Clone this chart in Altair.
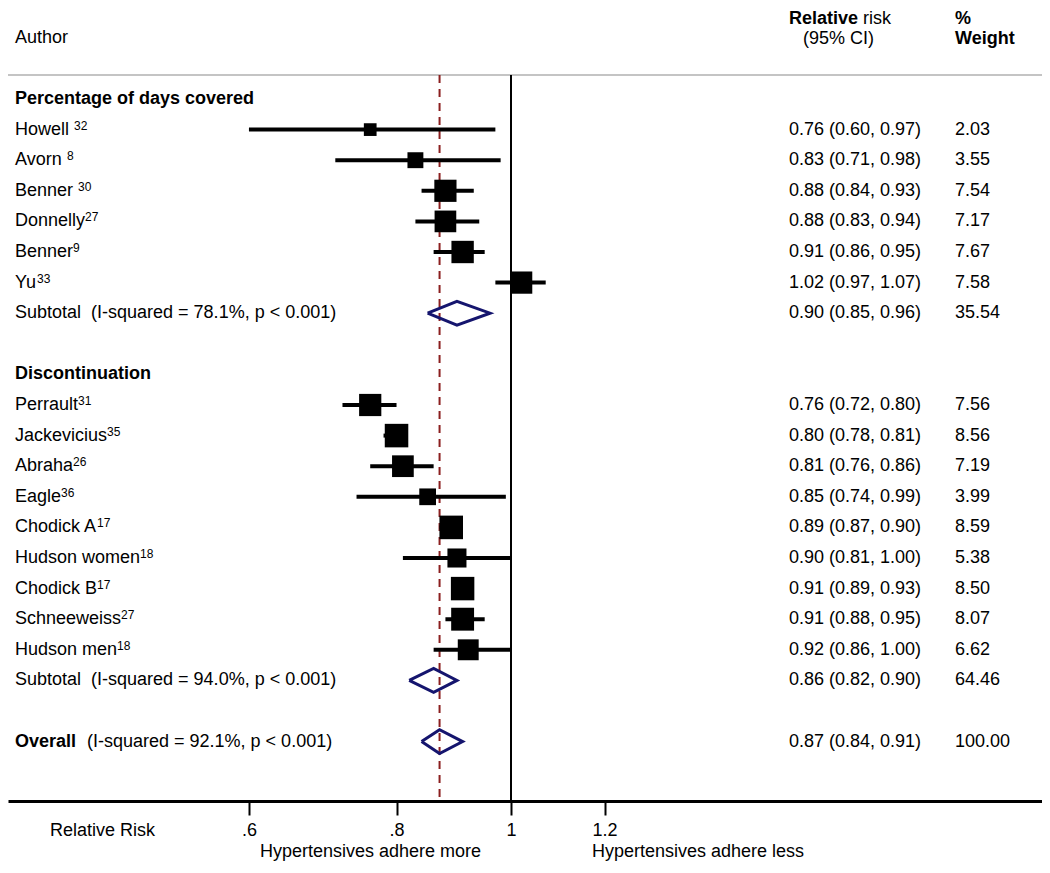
import altair as alt
import pandas as pd

# ---------------- data ----------------
study_names = ["Howell ", "Avorn ", "Benner ", "Donnelly", "Benner", "Yu",
               "Perrault", "Jackevicius", "Abraha", "Eagle", "Chodick A",
               "Hudson women", "Chodick B", "Schneeweiss", "Hudson men"]
study_refs = ["32", "8", "30", "27", "9", "33", "31", "35", "26", "36", "17", "18", "17", "27", "18"]
study_rows = [1, 2, 3, 4, 5, 6, 10, 11, 12, 13, 14, 15, 16, 17, 18]
study_est = [0.76, 0.83, 0.88, 0.88, 0.91, 1.02, 0.76, 0.80, 0.81, 0.85, 0.89, 0.90, 0.91, 0.91, 0.92]
study_lo = [0.60, 0.71, 0.84, 0.83, 0.86, 0.97, 0.72, 0.78, 0.76, 0.74, 0.87, 0.81, 0.89, 0.88, 0.86]
study_hi = [0.97, 0.98, 0.93, 0.94, 0.95, 1.07, 0.80, 0.81, 0.86, 0.99, 0.90, 1.00, 0.93, 0.95, 1.00]
study_weight = [2.03, 3.55, 7.54, 7.17, 7.67, 7.58, 7.56, 8.56, 7.19, 3.99, 8.59, 5.38, 8.50, 8.07, 6.62]

section_labels = ["Percentage of days covered", "Discontinuation"]
section_rows = [0, 9]

sum_labels = ["Subtotal\u00a0 (I-squared = 78.1%, p < 0.001)",
              "Subtotal\u00a0 (I-squared = 94.0%, p < 0.001)",
              "(I-squared = 92.1%, p < 0.001)"]
sum_bold = ["", "", "Overall"]
sum_rows = [7, 19, 21]
sum_est = [0.90, 0.86, 0.87]
sum_lo = [0.85, 0.82, 0.84]
sum_hi = [0.96, 0.90, 0.91]
sum_weight = [35.54, 64.46, 100.00]

tick_values = [0.6, 0.8, 1.0, 1.2]
tick_labels = [".6", ".8", "1", "1.2"]

FONT = "Liberation Sans, Arial, sans-serif"
FS = 18
W, H = 1034, 793
NAVY = "#15156e"
DRED = "#8b1f1f"

# Arial / Liberation Sans advance widths (per 1000 em) for placing the superscripts
ADV = {" ": 278, "A": 667, "B": 667, "C": 722, "D": 722, "E": 667, "H": 722, "J": 500,
       "P": 667, "S": 667, "Y": 667, "a": 556, "b": 556, "c": 500, "d": 556, "e": 556,
       "g": 556, "h": 556, "i": 222, "k": 500, "l": 222, "m": 833, "n": 556, "o": 556,
       "r": 333, "s": 500, "t": 278, "u": 556, "v": 500, "w": 722, "y": 500}


def text_width(s, size):
    return sum(ADV.get(c, 556) for c in s) * size / 1000.0


LEFT = 7
studies = pd.DataFrame({
    "label": study_names, "ref": study_refs, "row": study_rows, "est": study_est,
    "lo": study_lo, "hi": study_hi, "w": study_weight,
})
studies["supx"] = [LEFT + text_width(n, FS) for n in study_names]
studies["ci"] = [f"{e:.2f} ({l:.2f}, {h:.2f})" for e, l, h in zip(study_est, study_lo, study_hi)]
studies["wt"] = [f"{w:.2f}" for w in study_weight]

sums = pd.DataFrame({"label": sum_labels, "bold": sum_bold, "row": sum_rows, "est": sum_est,
                     "lo": sum_lo, "hi": sum_hi})
sums["ci"] = [f"{e:.2f} ({l:.2f}, {h:.2f})" for e, l, h in zip(sum_est, sum_lo, sum_hi)]
sums["wt"] = [f"{w:.2f}" for w in sum_weight]
sums["lx"] = [LEFT if b == "" else 79 for b in sum_bold]

sections = pd.DataFrame({"label": section_labels, "row": section_rows})

half = 0.39
dia_rows = []
for g, (r, e, l, h) in enumerate(zip(sum_rows, sum_est, sum_lo, sum_hi)):
    pts = [(l, r), (e, r - half), (h, r), (e, r + half), (l, r)]
    for k, (px, py) in enumerate(pts):
        dia_rows.append({"g": g, "k": k, "x": px, "y": py})
diamonds = pd.DataFrame(dia_rows)

xs = alt.Scale(type="log", domain=[0.37512, 2.81536], nice=False)
ys = alt.Scale(domain=[-2.97386, 22.9412], reverse=True, nice=False, zero=False)

label_expr = " : ".join(
    [f"datum.value == {v} ? '{t}'" for v, t in zip(tick_values, tick_labels)]
) + " : ''"

XAX = alt.Axis(values=tick_values, labelExpr=label_expr, tickSize=14, tickWidth=2, tickColor="black",
               domainColor="black", domainWidth=3, labelFont=FONT, labelFontSize=FS, labelColor="black",
               labelPadding=6, grid=False, title=None, labelFlush=False, labelOverlap=False)

one = pd.DataFrame({"x": [1.0]})
overall = pd.DataFrame({"x": [sum_est[2]]})

top_line = alt.Chart(one).mark_rule(color="#c4c4c4", strokeWidth=2).encode(
    x=alt.value(0), x2=alt.value(W), y=alt.value(67))

null_line = alt.Chart(one).mark_rule(color="black", strokeWidth=2).encode(
    x=alt.X("x:Q", scale=xs, axis=XAX), y=alt.value(67), y2=alt.value(H))

dash_line = alt.Chart(overall).mark_rule(color=DRED, strokeWidth=2, strokeDash=[8, 6]).encode(
    x=alt.X("x:Q", scale=xs, axis=XAX), y=alt.value(67), y2=alt.value(H))

ci = alt.Chart(studies).mark_rule(color="black", strokeWidth=4).encode(
    x=alt.X("lo:Q", scale=xs, axis=XAX),
    x2="hi:Q",
    y=alt.Y("row:Q", scale=ys, axis=None))

squares = alt.Chart(studies).mark_square(color="black", opacity=1, filled=True).encode(
    x=alt.X("est:Q", scale=xs, axis=XAX),
    y=alt.Y("row:Q", scale=ys, axis=None),
    size=alt.Size("w:Q", scale=alt.Scale(domain=[0, 10], range=[40, 640], zero=False), legend=None))

dia = alt.Chart(diamonds).mark_line(color=NAVY, strokeWidth=3).encode(
    x=alt.X("x:Q", scale=xs, axis=XAX),
    y=alt.Y("y:Q", scale=ys, axis=None),
    detail="g:N", order="k:Q")

txt = dict(font=FONT, fontSize=FS, color="black", baseline="middle", align="left")

study_txt = alt.Chart(studies).mark_text(**txt).encode(
    x=alt.value(LEFT), y=alt.Y("row:Q", scale=ys, axis=None), text="label:N")
study_sup = alt.Chart(studies).mark_text(font=FONT, fontSize=12, color="black", baseline="middle",
                                         align="left", dy=-4).encode(
    x=alt.X("supx:Q", scale=None), y=alt.Y("row:Q", scale=ys, axis=None), text="ref:N")
study_ci = alt.Chart(studies).mark_text(**txt).encode(
    x=alt.value(781), y=alt.Y("row:Q", scale=ys, axis=None), text="ci:N")
study_wt = alt.Chart(studies).mark_text(**txt).encode(
    x=alt.value(947), y=alt.Y("row:Q", scale=ys, axis=None), text="wt:N")

sec_txt = alt.Chart(sections).mark_text(fontWeight="bold", **txt).encode(
    x=alt.value(LEFT), y=alt.Y("row:Q", scale=ys, axis=None), text="label:N")

sum_txt = alt.Chart(sums).mark_text(**txt).encode(
    x=alt.X("lx:Q", scale=None), y=alt.Y("row:Q", scale=ys, axis=None), text="label:N")
sum_bold_txt = alt.Chart(sums).mark_text(fontWeight="bold", **txt).encode(
    x=alt.value(LEFT), y=alt.Y("row:Q", scale=ys, axis=None), text="bold:N")
sum_ci = alt.Chart(sums).mark_text(**txt).encode(
    x=alt.value(781), y=alt.Y("row:Q", scale=ys, axis=None), text="ci:N")
sum_wt = alt.Chart(sums).mark_text(**txt).encode(
    x=alt.value(947), y=alt.Y("row:Q", scale=ys, axis=None), text="wt:N")

hdr = pd.DataFrame({
    "t": ["Author", "Relative", "risk", "(95% CI)", "%", "Weight"],
    "px": [LEFT, 781, 855, 795, 947, 947],
    "py": [30, 11, 11, 31, 11, 31],
    "b": ["normal", "bold", "normal", "normal", "bold", "bold"],
})
hdr_n = alt.Chart(hdr).transform_filter("datum.b == 'normal'").mark_text(**txt).encode(
    x=alt.X("px:Q", scale=None), y=alt.Y("py:Q", scale=None), text="t:N")
hdr_b = alt.Chart(hdr).transform_filter("datum.b == 'bold'").mark_text(fontWeight="bold", **txt).encode(
    x=alt.X("px:Q", scale=None), y=alt.Y("py:Q", scale=None), text="t:N")

bottom = pd.DataFrame({
    "t": ["Relative Risk", "Hypertensives adhere more", "Hypertensives adhere less"],
    "px": [42, 252, 584],
    "py": [823, 844, 844],
})
bottom_txt = alt.Chart(bottom).mark_text(**txt).encode(
    x=alt.X("px:Q", scale=None), y=alt.Y("py:Q", scale=None), text="t:N")

chart = alt.layer(
    top_line, null_line, dash_line, ci, squares, dia,
    study_txt, study_sup, study_ci, study_wt, sec_txt, sum_txt, sum_bold_txt, sum_ci, sum_wt,
    hdr_n, hdr_b, bottom_txt,
).properties(
    width=W, height=H,
    autosize=alt.AutoSizeParams(type="none"),
    padding={"left": 0, "top": 0, "right": 0, "bottom": 60},
).configure_view(strokeWidth=0)

chart.save("out.html", embed_options={"renderer": "svg", "actions": False})
